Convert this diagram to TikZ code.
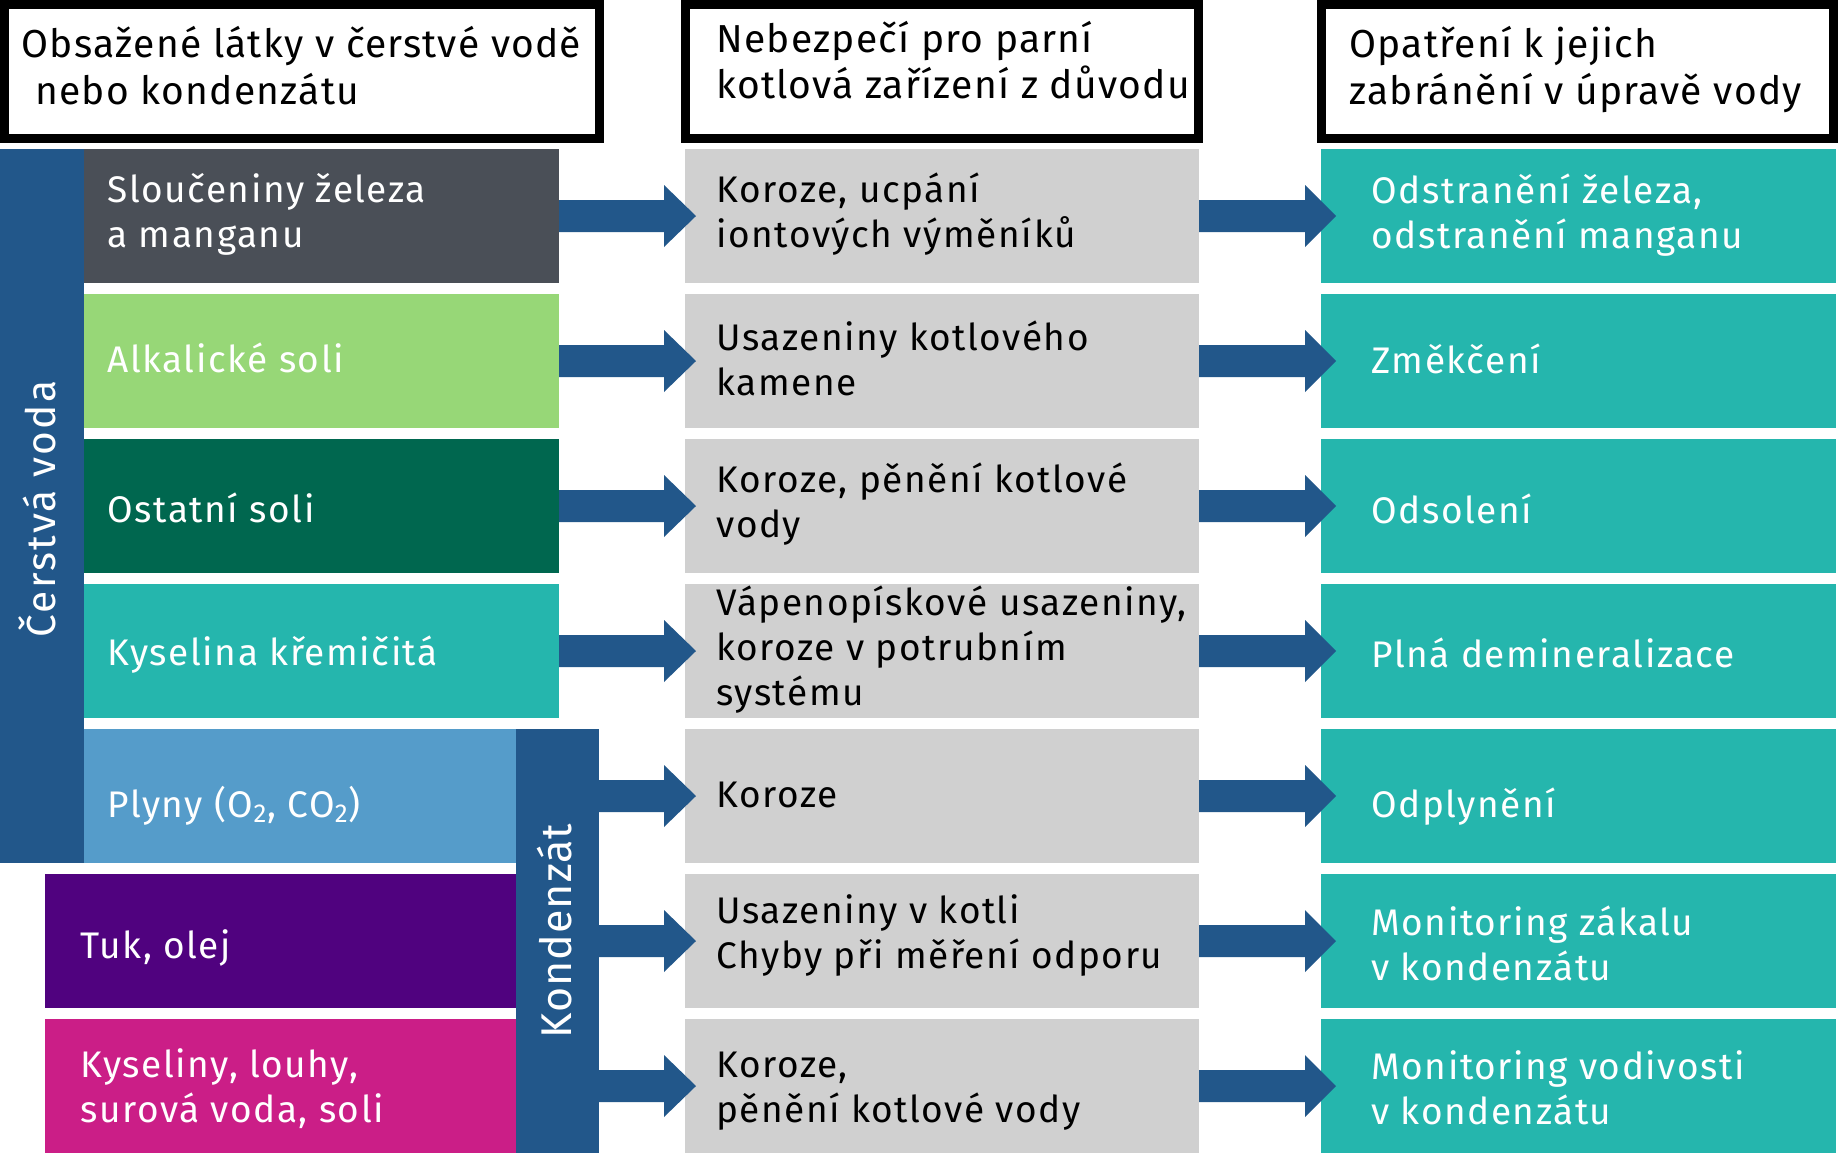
\documentclass[tikz,border=0pt]{standalone}
\usepackage{fontspec}
\setmainfont{Fira Sans}
\newfontfamily\rowff[LetterSpace=4.2]{Fira Sans}
\newfontfamily\ttlff[LetterSpace=3.2]{Fira Sans}
\newfontfamily\freshff[LetterSpace=5.4]{Fira Sans}
\newfontfamily\kondff[LetterSpace=2.2]{Fira Sans}
\usetikzlibrary{calc}
\definecolor{cdark}{HTML}{4A4F57}
\definecolor{cgreen}{HTML}{97D777}
\definecolor{cdgreen}{HTML}{00674F}
\definecolor{cteal}{HTML}{25B6AD}
\definecolor{clblue}{HTML}{559CCA}
\definecolor{cpurple}{HTML}{50027F}
\definecolor{cmag}{HTML}{CB1E87}
\definecolor{cblue}{HTML}{22578A}
\definecolor{cgray}{HTML}{D0D0D0}
\newcommand\lines[1]{\begin{tabular}[t]{@{}l@{}}#1\end{tabular}}
% #1 start, #2 target anchor, #3 tip offset, #4 head length
\newcommand\fatarrow[4]{%
  \fill[cblue] ($(#1)+(0,-16)$) -- ($(#2)+(#3-#4,-16)$) -- ($(#2)+(#3-#4,-31)$)
    -- ($(#2)+(#3,0)$) -- ($(#2)+(#3-#4,31)$) -- ($(#2)+(#3-#4,16)$)
    -- ($(#1)+(0,16)$) -- cycle;}
\begin{document}
\begin{tikzpicture}[x=0.5pt,y=-0.5pt,
  cell/.style={anchor=north west, inner sep=0pt, outer sep=0pt, minimum height=67pt},
  ttl/.style={draw=black, line width=4.5pt, fill=white, inner sep=0pt, outer sep=0pt, minimum height=67pt},
  lt/.style={anchor=base west, inner sep=0pt, font=\rowff\fontsize{18.5}{22.5}\selectfont, text=white},
  mt/.style={lt, text=black},
  tt/.style={anchor=base west, inner sep=0pt, font=\ttlff\fontsize{19.5}{23.5}\selectfont, text=black},
  vt/.style={rotate=90, anchor=base, inner sep=0pt, text=white}
]
\useasboundingbox (0,0) rectangle (1839,1153);

% header boxes
\node[ttl, minimum width=297.5pt] (h1) at (302,71.5) {};
\node[ttl, minimum width=256.5pt] (h2) at (942,71.5) {};
\node[ttl, minimum width=256pt] (h3) at (1577.5,71.5) {};
\node[tt] (h1t) at ($(h1.north west)+(16.5,52.5)$) {\lines{Obsažené látky v čerstvé vodě\\\hspace*{7pt}nebo kondenzátu}};
\node[tt, font=\ttlff\fontsize{19.5}{22.5}\selectfont] (h2t) at ($(h2.north west)+(30.5,47.5)$) {\lines{Nebezpečí pro parní\\kotlová zařízení z důvodu}};
\node[tt] (h3t) at ($(h3.north west)+(27.5,52.5)$) {\lines{Opatření k jejich\\zabránění v úpravě vody}};

% left column
\node[cell, fill=cdark, minimum width=237.5pt] (l0) at (84,149) {};
\node[cell, fill=cgreen, minimum width=237.5pt] (l1) at (84,294) {};
\node[cell, fill=cdgreen, minimum width=237.5pt] (l2) at (84,439) {};
\node[cell, fill=cteal, minimum width=237.5pt] (l3) at (84,584) {};
\node[cell, fill=clblue, minimum width=216pt] (l4) at (84,729) {};
\node[cell, fill=cpurple, minimum width=235.5pt] (l5) at (45,874) {};
\node[cell, fill=cmag, minimum width=235.5pt] (l6) at (45,1019) {};
\node[cell, fill=cblue, minimum width=42pt, minimum height=357pt] (fresh) at (0,149) {};
\node[cell, fill=cblue, minimum width=41.5pt, minimum height=212pt] (kond) at (516,729) {};

\node[lt] (l0t) at ($(l0.north west)+(23,53)$) {\lines{Sloučeniny železa\\a manganu}};
\node[lt] (l1t) at ($(l1.north west)+(23,78)$) {Alkalické soli};
\node[lt] (l2t) at ($(l2.north west)+(23,83)$) {Ostatní soli};
\node[lt] (l3t) at ($(l3.north west)+(23,81)$) {Kyselina křemičitá};
\node[lt] (l4t) at ($(l4.north west)+(23,88)$) {Plyny (O\textsubscript{2}, CO\textsubscript{2})};
\node[lt] (l5t) at ($(l5.north west)+(35,84)$) {Tuk, olej};
\node[lt] (l6t) at ($(l6.north west)+(35,58)$) {\lines{Kyseliny, louhy,\\surová voda, soli}};
\node[vt, font=\freshff\fontsize{20.3}{24}\selectfont] (freshT) at (55,509) {Čerstvá voda};
\node[vt, font=\kondff\fontsize{21.5}{25}\selectfont] (kondT) at (571,931) {Kondenzát};

% middle column
\node[cell, fill=cgray, minimum width=257pt] (m0) at (685,149) {};
\node[cell, fill=cgray, minimum width=257pt] (m1) at (685,294) {};
\node[cell, fill=cgray, minimum width=257pt] (m2) at (685,439) {};
\node[cell, fill=cgray, minimum width=257pt] (m3) at (685,584) {};
\node[cell, fill=cgray, minimum width=257pt] (m4) at (685,729) {};
\node[cell, fill=cgray, minimum width=257pt] (m5) at (685,874) {};
\node[cell, fill=cgray, minimum width=257pt] (m6) at (685,1019) {};

\node[mt] (m0t) at ($(m0.north west)+(31,53)$) {\lines{Koroze, ucpání\\iontových výměníků}};
\node[mt] (m1t) at ($(m1.north west)+(31,56)$) {\lines{Usazeniny kotlového\\kamene}};
\node[mt] (m2t) at ($(m2.north west)+(31,53)$) {\lines{Koroze, pěnění kotlové\\vody}};
\node[mt] (m3t) at ($(m3.north west)+(31,31)$) {\lines{Vápenopískové usazeniny,\\koroze v potrubním\\systému}};
\node[mt] (m4t) at ($(m4.north west)+(31,78)$) {Koroze};
\node[mt] (m5t) at ($(m5.north west)+(31,49)$) {\lines{Usazeniny v kotli\\Chyby při měření odporu}};
\node[mt] (m6t) at ($(m6.north west)+(31,58)$) {\lines{Koroze,\\pěnění kotlové vody}};

% right column
\node[cell, fill=cteal, minimum width=257.5pt] (r0) at (1321,149) {};
\node[cell, fill=cteal, minimum width=257.5pt] (r1) at (1321,294) {};
\node[cell, fill=cteal, minimum width=257.5pt] (r2) at (1321,439) {};
\node[cell, fill=cteal, minimum width=257.5pt] (r3) at (1321,584) {};
\node[cell, fill=cteal, minimum width=257.5pt] (r4) at (1321,729) {};
\node[cell, fill=cteal, minimum width=257.5pt] (r5) at (1321,874) {};
\node[cell, fill=cteal, minimum width=257.5pt] (r6) at (1321,1019) {};

\node[lt] (r0t) at ($(r0.north west)+(50,54)$) {\lines{Odstranění železa,\\odstranění manganu}};
\node[lt] (r1t) at ($(r1.north west)+(50,79)$) {Změkčení};
\node[lt] (r2t) at ($(r2.north west)+(50,84)$) {Odsolení};
\node[lt] (r3t) at ($(r3.north west)+(50,83)$) {Plná demineralizace};
\node[lt] (r4t) at ($(r4.north west)+(50,88)$) {Odplynění};
\node[lt] (r5t) at ($(r5.north west)+(50,61)$) {\lines{Monitoring zákalu\\v kondenzátu}};
\node[lt] (r6t) at ($(r6.north west)+(50,60)$) {\lines{Monitoring vodivosti\\v kondenzátu}};

% arrows left -> middle
\fatarrow{l0.east}{m0.west}{11}{32}
\fatarrow{l1.east}{m1.west}{11}{32}
\fatarrow{l2.east}{m2.west}{11}{32}
\fatarrow{l3.east}{m3.west}{11}{32}
\fatarrow{kond.east |- m4.west}{m4.west}{11}{32}
\fatarrow{kond.east |- m5.west}{m5.west}{11}{32}
\fatarrow{kond.east |- m6.west}{m6.west}{11}{32}
% arrows middle -> right
\fatarrow{m0.east}{r0.west}{15}{31}
\fatarrow{m1.east}{r1.west}{15}{31}
\fatarrow{m2.east}{r2.west}{15}{31}
\fatarrow{m3.east}{r3.west}{15}{31}
\fatarrow{m4.east}{r4.west}{15}{31}
\fatarrow{m5.east}{r5.west}{15}{31}
\fatarrow{m6.east}{r6.west}{15}{31}
\end{tikzpicture}
\end{document}
